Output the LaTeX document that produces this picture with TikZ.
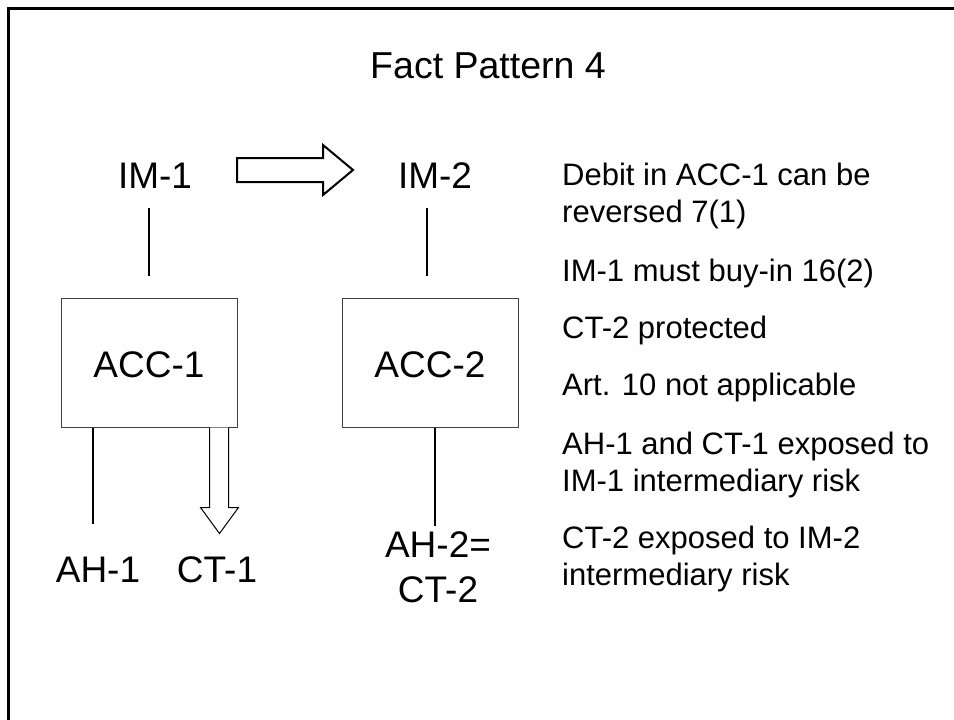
\documentclass[tikz,border=0pt]{standalone}
\usepackage{fontspec}
\setmainfont{Liberation Sans}
\usetikzlibrary{positioning}

\tikzset{
  heading/.style={font=\fontsize{37.5}{45}\selectfont, inner sep=0pt, anchor=base},
  lbl/.style={font=\fontsize{37}{44}\selectfont, inner sep=0pt, anchor=base},
  note/.style={font=\fontsize{31}{37}\selectfont, inner sep=0pt, anchor=base west},
  accbox/.style={draw=black!75, line width=1pt, minimum width=176pt, minimum height=129pt, inner sep=0pt},
  link/.style={line width=2.5pt},
  fatarrow/.style={draw, fill=white, line width=2pt, line join=miter},
  thinarrow/.style={draw, fill=white, line width=1pt, line join=miter}
}

\begin{document}
\begin{tikzpicture}[x=1pt, y=-1pt]
  \useasboundingbox (0,0) rectangle (954,720);
  \draw[line width=3pt] (8.5,8.5) rectangle (1000,800);

  \node[heading] (title) at (488,78) {Fact Pattern 4};

  % intermediaries
  \node[lbl] (im1) at (155,188) {IM-1};
  \node[lbl] (im2) at (435,188) {IM-2};

  % accounts
  \node[accbox] (acc1) at (149,362.5) {};
  \node[accbox] (acc2) at (430,362.5) {};
  \node[lbl] (acc1txt) at (149,377) {ACC-1};
  \node[lbl] (acc2txt) at (430,377) {ACC-2};

  % holders
  \node[lbl] (ah1) at (98,582) {AH-1};
  \node[lbl] (ct1) at (217,582) {CT-1};
  \node[lbl] (ah2) at (438,557) {AH-2=};
  \node[lbl] (ct2) [below=45pt of ah2.base, anchor=base] {CT-2};

  % transfer IM-1 to IM-2
  \coordinate (tr) at (237,170);
  \draw[fatarrow] (tr) ++(0,-12) -- ++(86,0) -- ++(0,-13) -- (353,170)
    -- (323,195) -- (323,182) -- (237,182) -- cycle;

  % links
  \draw[link] ([yshift=22pt]acc1.north) -- ++(0,-68);
  \draw[link] ([xshift=-3pt,yshift=22pt]acc2.north) -- ++(0,-68);
  \draw[link] ([xshift=-56pt]acc1.south) -- ++(0,96);
  \draw[link] ([xshift=5pt]acc2.south) -- ++(0,98);

  % ACC-1 to CT-1
  \coordinate (out) at ([xshift=70pt]acc1.south);
  \draw[thinarrow] ([xshift=-9.5pt]out) -- ++(0,80) -- ++(-9,0) -- ++(19,26)
    -- ++(19,-26) -- ++(-10,0) -- ([xshift=9.5pt]out);

  % notes
  \node[note] (n1a) at (562,185) {Debit in ACC-1 can be};
  \node[note] (n1b) at (562,222) {reversed 7(1)};
  \node[note] (n2) at (562,281) {IM-1 must buy-in 16(2)};
  \node[note] (n3) at (562,338) {CT-2 protected};
  \node[note] (n4) at (562,395) {Art. 10 not applicable};
  \node[note] (n5a) at (562,454) {AH-1 and CT-1 exposed to};
  \node[note] (n5b) at (562,491) {IM-1 intermediary risk};
  \node[note] (n6a) at (562,548) {CT-2 exposed to IM-2};
  \node[note] (n6b) at (562,585) {intermediary risk};
\end{tikzpicture}
\end{document}
